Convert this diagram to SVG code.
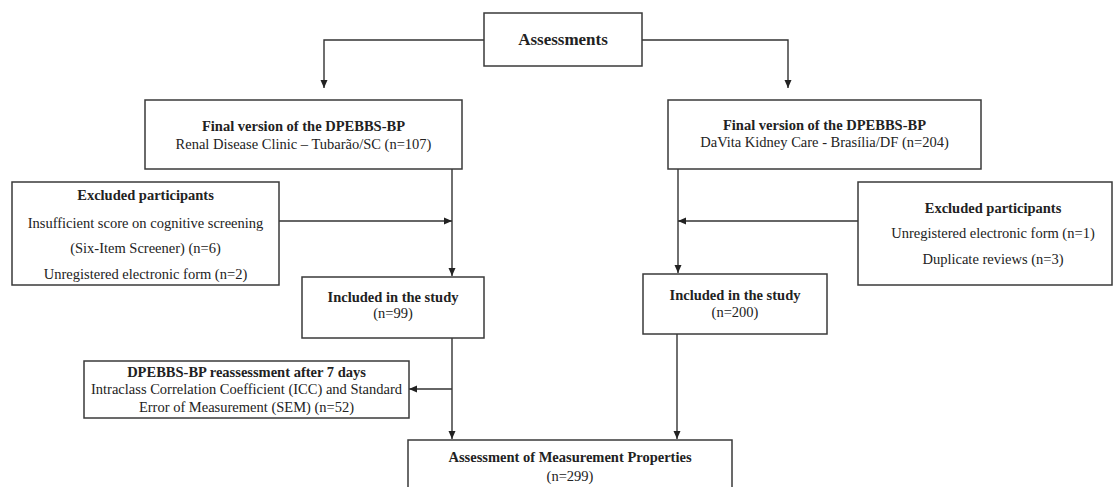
<svg xmlns="http://www.w3.org/2000/svg" width="1115" height="487" viewBox="0 0 1115 487">
<style>
.box{fill:#fff;stroke:#3a3a3a;stroke-width:1.5}
.ln{fill:none;stroke:#333;stroke-width:1.4}
.t text{font-family:'Liberation Serif','Times New Roman','DejaVu Serif',serif;font-size:14.5px;fill:#222;text-anchor:middle}
.t .b{font-weight:bold}
.t .big{font-size:17px}
</style>
<defs>
<marker id="ah" markerUnits="userSpaceOnUse" markerWidth="10" markerHeight="10" viewBox="0 0 10 10" refX="9" refY="5" orient="auto">
<path d="M1,1.5 L9,5 L1,8.5 Z" fill="#222"/>
</marker>
</defs>
<rect width="1115" height="487" fill="#fff"/>
<g id="connectors">
<path class="ln" d="M484,40 H324 V88" marker-end="url(#ah)"/>
<path class="ln" d="M642,40 H788 V88" marker-end="url(#ah)"/>
<path class="ln" d="M452,169 V276" marker-end="url(#ah)"/>
<path class="ln" d="M279,221 H452" marker-end="url(#ah)"/>
<path class="ln" d="M678,169 V273" marker-end="url(#ah)"/>
<path class="ln" d="M858,221 H678" marker-end="url(#ah)"/>
<path class="ln" d="M452,338 V439" marker-end="url(#ah)"/>
<path class="ln" d="M452,389 H409" marker-end="url(#ah)"/>
<path class="ln" d="M677,334 V439" marker-end="url(#ah)"/>
</g>
<g class="t" font-family="Liberation Serif, Times New Roman, serif">
<g id="assessments">
<rect class="box" x="484" y="13" width="158" height="53"/>
<text class="b big" x="563" y="45">Assessments</text>
</g>
<g id="final-left">
<rect class="box" x="145" y="100" width="317" height="69"/>
<text class="b" x="303.5" y="131">Final version of the DPEBBS-BP</text>
<text x="303.5" y="149">Renal Disease Clinic – Tubarão/SC (n=107)</text>
</g>
<g id="final-right">
<rect class="box" x="668" y="100" width="313" height="69"/>
<text class="b" x="824.5" y="130">Final version of the DPEBBS-BP</text>
<text x="824.5" y="147">DaVita Kidney Care - Brasília/DF (n=204)</text>
</g>
<g id="excluded-left">
<rect class="box" x="12" y="182" width="267" height="103"/>
<text class="b" x="145.5" y="200">Excluded participants</text>
<text x="145.5" y="228">Insufficient score on cognitive screening</text>
<text x="145.5" y="253">(Six-Item Screener) (n=6)</text>
<text x="145.5" y="279">Unregistered electronic form (n=2)</text>
</g>
<g id="excluded-right">
<rect class="box" x="858" y="182" width="254" height="103"/>
<text class="b" x="993" y="213">Excluded participants</text>
<text x="993" y="238">Unregistered electronic form (n=1)</text>
<text x="993" y="264">Duplicate reviews (n=3)</text>
</g>
<g id="included-left">
<rect class="box" x="302" y="277" width="182" height="61"/>
<text class="b" x="393" y="302">Included in the study</text>
<text x="393" y="318">(n=99)</text>
</g>
<g id="included-right">
<rect class="box" x="643" y="274" width="184" height="60"/>
<text class="b" x="735" y="300">Included in the study</text>
<text x="735" y="317">(n=200)</text>
</g>
<g id="reassessment">
<rect class="box" x="84" y="361" width="325" height="57"/>
<text class="b" x="246.5" y="377">DPEBBS-BP reassessment after 7 days</text>
<text x="246.5" y="394">Intraclass Correlation Coefficient (ICC) and Standard</text>
<text x="246.5" y="412">Error of Measurement (SEM) (n=52)</text>
</g>
<g id="measurement">
<rect class="box" x="408" y="440" width="324" height="52"/>
<text class="b" x="570" y="462">Assessment of Measurement Properties</text>
<text x="570" y="481">(n=299)</text>
</g>
</g>
</svg>
